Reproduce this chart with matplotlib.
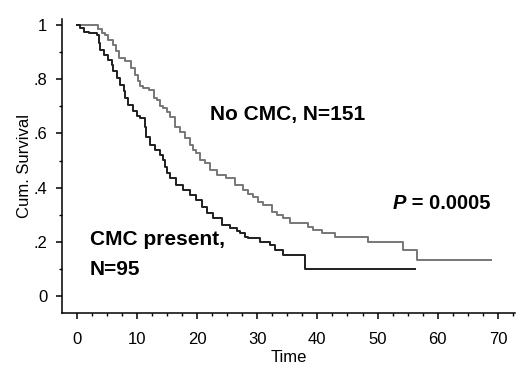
import matplotlib
matplotlib.use("Agg")
import matplotlib.pyplot as plt
from matplotlib.ticker import MultipleLocator, FixedLocator, FixedFormatter
from matplotlib.transforms import offset_copy

plt.rcParams["font.family"] = ["Liberation Sans", "DejaVu Sans"]

# Kaplan-Meier step points
no_cmc_time = [0, 3.5, 4.2, 4.8, 5.3, 6.1, 6.5, 7.0, 8.1, 9.1, 9.7, 10.2, 10.6, 11.1, 12.0,
               12.8, 13.3, 13.9, 14.4, 15.0, 15.5, 16.3, 17.2, 18.0, 18.8, 19.4, 19.9, 20.5,
               21.3, 22.1, 23.3, 24.9, 26.3, 27.7, 28.5, 29.3, 30.1, 31.0, 32.4, 33.3, 34.3,
               35.4, 38.5, 39.3, 40.7, 43.0, 48.4, 54.3, 56.5, 68.8]
no_cmc_surv = [1.0, 0.984, 0.971, 0.964, 0.946, 0.927, 0.903, 0.878, 0.868, 0.841, 0.817,
               0.795, 0.774, 0.768, 0.761, 0.731, 0.723, 0.70, 0.693, 0.68, 0.662, 0.625,
               0.606, 0.582, 0.557, 0.539, 0.527, 0.502, 0.49, 0.465, 0.446, 0.434, 0.41,
               0.391, 0.378, 0.366, 0.348, 0.336, 0.311, 0.30, 0.287, 0.27, 0.256, 0.244,
               0.232, 0.217, 0.198, 0.17, 0.133, 0.133]

cmc_time = [0, 0.6, 1.2, 2.1, 3.4, 3.7, 3.9, 4.5, 5.3, 5.9, 6.1, 6.7, 7.2, 7.8, 8.1, 8.6,
            9.3, 10.0, 10.5, 11.3, 11.6, 12.2, 13.0, 13.8, 14.4, 14.7, 15.1, 15.5, 16.6,
            17.7, 18.8, 19.9, 20.8, 21.6, 22.7, 24.1, 25.5, 26.6, 27.1, 28.0, 28.5, 30.4,
            32.1, 33.0, 34.3, 37.9, 56.2]
cmc_surv = [1.0, 0.988, 0.975, 0.969, 0.963, 0.934, 0.909, 0.89, 0.872, 0.854, 0.829,
            0.804, 0.78, 0.755, 0.731, 0.706, 0.681, 0.663, 0.656, 0.625, 0.588, 0.557,
            0.539, 0.52, 0.502, 0.477, 0.455, 0.434, 0.41, 0.391, 0.373, 0.354, 0.33,
            0.305, 0.287, 0.262, 0.25, 0.24, 0.231, 0.219, 0.213, 0.2, 0.188, 0.17,
            0.151, 0.1, 0.1]

y_ticks = [0, 0.2, 0.4, 0.6, 0.8, 1.0]
y_tick_labels = ["0", ".2", ".4", ".6", ".8", "1"]
x_ticks = [0, 10, 20, 30, 40, 50, 60, 70]

fig = plt.figure(figsize=(5.2, 3.74), dpi=100)
ax = fig.add_axes([0.119, 0.163, 0.871, 0.786])

ax.step(no_cmc_time, no_cmc_surv, where="post", color="#777777", lw=1.4)
ax.step(cmc_time, cmc_surv, where="post", color="#1e1e1e", lw=1.4)

ax.set_xlim(-2.44, 72.8)
ax.set_ylim(-0.063, 1.022)

ax.xaxis.set_major_locator(FixedLocator(x_ticks))
ax.xaxis.set_minor_locator(MultipleLocator(2.5))
ax.yaxis.set_major_locator(FixedLocator(y_ticks))
ax.yaxis.set_major_formatter(FixedFormatter(y_tick_labels))
ax.yaxis.set_minor_locator(MultipleLocator(0.1))

for side in ["top", "right"]:
    ax.spines[side].set_visible(False)
for side in ["left", "bottom"]:
    ax.spines[side].set_linewidth(1.1)

ax.tick_params(which="major", direction="out", length=4.5, width=1.1, labelsize=12)
ax.tick_params(axis="x", which="major", pad=9)
ax.tick_params(axis="y", which="major", pad=6)
ax.tick_params(which="minor", direction="out", length=2.5, width=1.0)

ax.set_xlabel("Time", fontsize=12, labelpad=2)
ax.set_ylabel("Cum. Survival", fontsize=12, labelpad=1)

ax.text(22.1, 0.668, "No CMC, N=151", fontsize=15, fontweight="bold", va="center")
ax.text(2.2, 0.207, "CMC present,", fontsize=15, fontweight="bold", va="center")
ax.text(2.2, 0.096, "N=95", fontsize=15, fontweight="bold", va="center")

p_txt = ax.text(52.5, 0.343, "P", fontsize=14.5, fontweight="bold", fontstyle="italic",
                va="center")
fig.canvas.draw()
p_width = p_txt.get_window_extent().width * 72.0 / fig.dpi
ax.text(52.5, 0.343, " = 0.0005", fontsize=14.5, fontweight="bold", va="center",
        transform=offset_copy(ax.transData, fig=fig, x=p_width, y=0, units="points"))

fig.savefig("out.png", dpi=100)
